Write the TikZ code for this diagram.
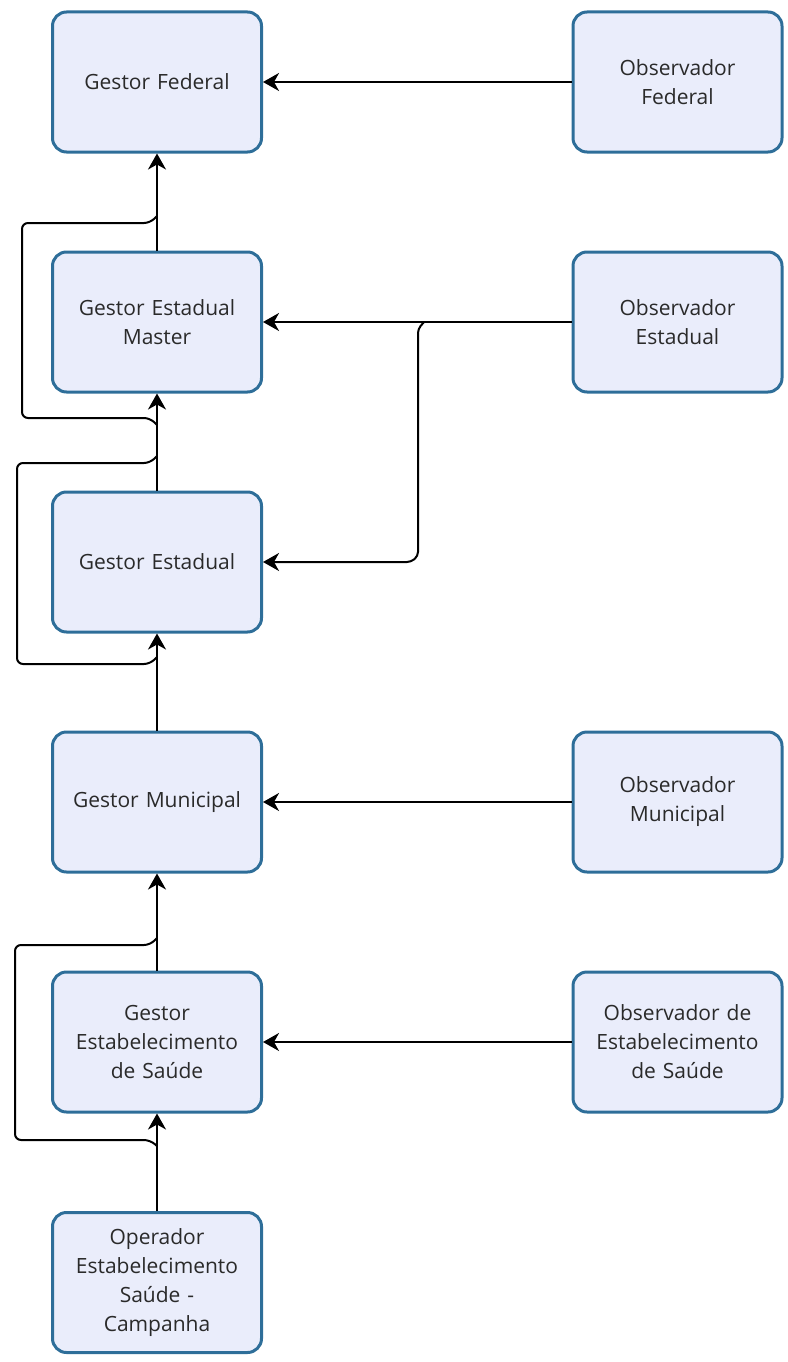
\documentclass[tikz,border=0pt]{standalone}
\usepackage{fontspec}
\setmainfont{Open Sans}
\usetikzlibrary{arrows.meta}
\definecolor{boxfill}{HTML}{EAEDFB}
\definecolor{boxline}{HTML}{2E6E99}
\definecolor{txt}{HTML}{2A2A2A}
\tikzset{
  box/.style={draw=boxline, fill=boxfill, line width=3pt, rounded corners=14pt,
    minimum width=209pt, minimum height=140pt, inner sep=0pt,
    text width=205pt, align=center, text=txt,
    font=\fontsize{21}{29}\selectfont},
  wire/.style={draw=black, line width=2pt, line join=round},
  conn/.style={wire, -{Stealth[length=16pt,width=18pt,inset=5pt]}},
  side/.style={wire, rounded corners=6pt},
}
\begin{document}
\begin{tikzpicture}[x=1pt,y=-1pt]
\useasboundingbox (0,0) rectangle (787,1362);
% left column
\node[box] (gf)  at (157,82)   {Gestor Federal};
\node[box] (gem) at (157,322)  {Gestor Estadual\\Master};
\node[box] (ge)  at (157,562)  {Gestor Estadual};
\node[box] (gm)  at (157,802)  {Gestor Municipal};
\node[box] (ges) at (157,1042) {Gestor\\Estabelecimento\\de Saúde};
\node[box] (op)  at (157,1282.5) {Operador\\Estabelecimento\\Saúde -\\Campanha};
% right column
\node[box] (of)  at (677.5,82)   {Observador\\Federal};
\node[box] (oe)  at (677.5,322)  {Observador\\Estadual};
\node[box] (om)  at (677.5,802)  {Observador\\Municipal};
\node[box] (oes) at (677.5,1042) {Observador de\\Estabelecimento\\de Saúde};
% vertical chain
\draw[conn] (gem.north) -- (gf.south);
\draw[conn] (ge.north) -- (gem.south);
\draw[conn] (gm.north) -- (ge.south);
\draw[conn] (ges.north) -- (gm.south);
\draw[conn] (op.north) -- (ges.south);
% junction points on the vertical chain
\coordinate (a1) at (157,425);  \coordinate (a2) at (157,216);
\coordinate (b1) at (157,657);  \coordinate (b2) at (157,456);
\coordinate (c1) at (157,1146); \coordinate (c2) at (157,938);
% bypass branches
\draw[side] (a1) -- (150,418) -- (22,418) -- (22,223) -- (150,223) -- (a2);
\draw[side] (b1) -- (150,664) -- (17,664) -- (17,463) -- (150,463) -- (b2);
\draw[side] (c1) -- (150,1140) -- (15,1140) -- (15,945) -- (150,945) -- (c2);
% observers
\draw[conn] (of.west) -- (gf.east);
\draw[conn] (oe.west) -- (gem.east);
\coordinate (e1) at (424,322);
\draw[conn, rounded corners=4pt] (e1) -- (418,329) -- (418,556) -- (411,562) -- (ge.east);
\draw[conn] (om.west) -- (gm.east);
\draw[conn] (oes.west) -- (ges.east);
\end{tikzpicture}
\end{document}
